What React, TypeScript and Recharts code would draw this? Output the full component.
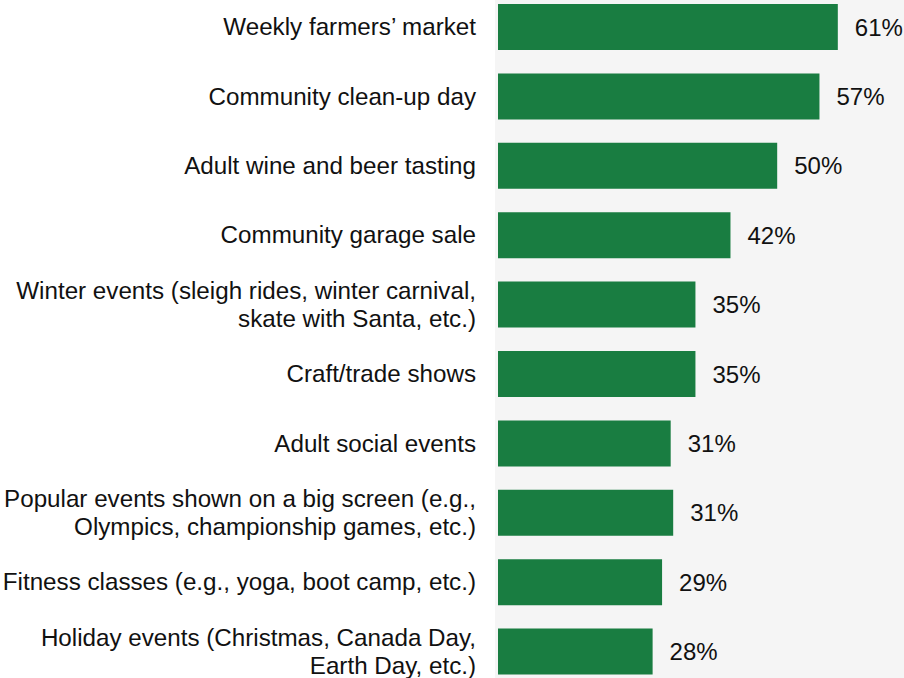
import { BarChart, Bar, XAxis, YAxis, LabelList } from 'recharts'

const categories = [
  'Weekly farmers’ market',
  'Community clean-up day',
  'Adult wine and beer tasting',
  'Community garage sale',
  'Winter events (sleigh rides, winter carnival,\nskate with Santa, etc.)',
  'Craft/trade shows',
  'Adult social events',
  'Popular events shown on a big screen (e.g.,\nOlympics, championship games, etc.)',
  'Fitness classes (e.g., yoga, boot camp, etc.)',
  'Holiday events (Christmas, Canada Day,\nEarth Day, etc.)',
]

const values = [61.1, 57.8, 50.2, 41.8, 35.5, 35.5, 31.05, 31.5, 29.5, 27.8]

const valueLabels = ['61%', '57%', '50%', '42%', '35%', '35%', '31%', '31%', '29%', '28%']

const data = categories.map((name, i) => ({ name, value: values[i], label: valueLabels[i] }))

const FONT = '"Liberation Sans", Arial, Helvetica, sans-serif'
const GREEN = '#197d41'

function CategoryTick({ x, y, payload }: any) {
  const lines = String(payload.value).split('\n')
  const lineHeight = 28
  const start = y - ((lines.length - 1) * lineHeight) / 2
  return (
    <text x={x} y={start} textAnchor="end" fill="#111" fontSize={24.2} fontFamily={FONT}>
      {lines.map((line, i) => (
        <tspan key={i} x={x} y={start + i * lineHeight} dominantBaseline="central">
          {line}
        </tspan>
      ))}
    </text>
  )
}

export default function App() {
  return (
    <div
      style={{
        position: 'absolute',
        left: 0,
        top: 0,
        width: 904,
        height: 678,
        overflow: 'hidden',
        background: '#ffffff',
      }}
    >
      <div style={{ position: 'absolute', left: 495, top: 0, width: 409, height: 678, background: '#f5f5f5' }} />
      <div style={{ position: 'absolute', left: 0, top: -8 }}>
        <BarChart
          width={904}
          height={694}
          data={data}
          layout="vertical"
          margin={{ top: 0, right: 0, bottom: 0, left: 0 }}
        >
          <XAxis type="number" domain={[0, 73]} hide />
          <YAxis
            type="category"
            dataKey="name"
            width={498}
            axisLine={false}
            tickLine={false}
            tickSize={0}
            tickMargin={22}
            interval={0}
            tick={<CategoryTick />}
          />
          <Bar dataKey="value" fill={GREEN} barSize={46} isAnimationActive={false}>
            <LabelList
              dataKey="label"
              position="right"
              offset={17}
              fill="#111"
              fontSize={24}
              fontFamily={FONT}
            />
          </Bar>
        </BarChart>
      </div>
    </div>
  )
}
